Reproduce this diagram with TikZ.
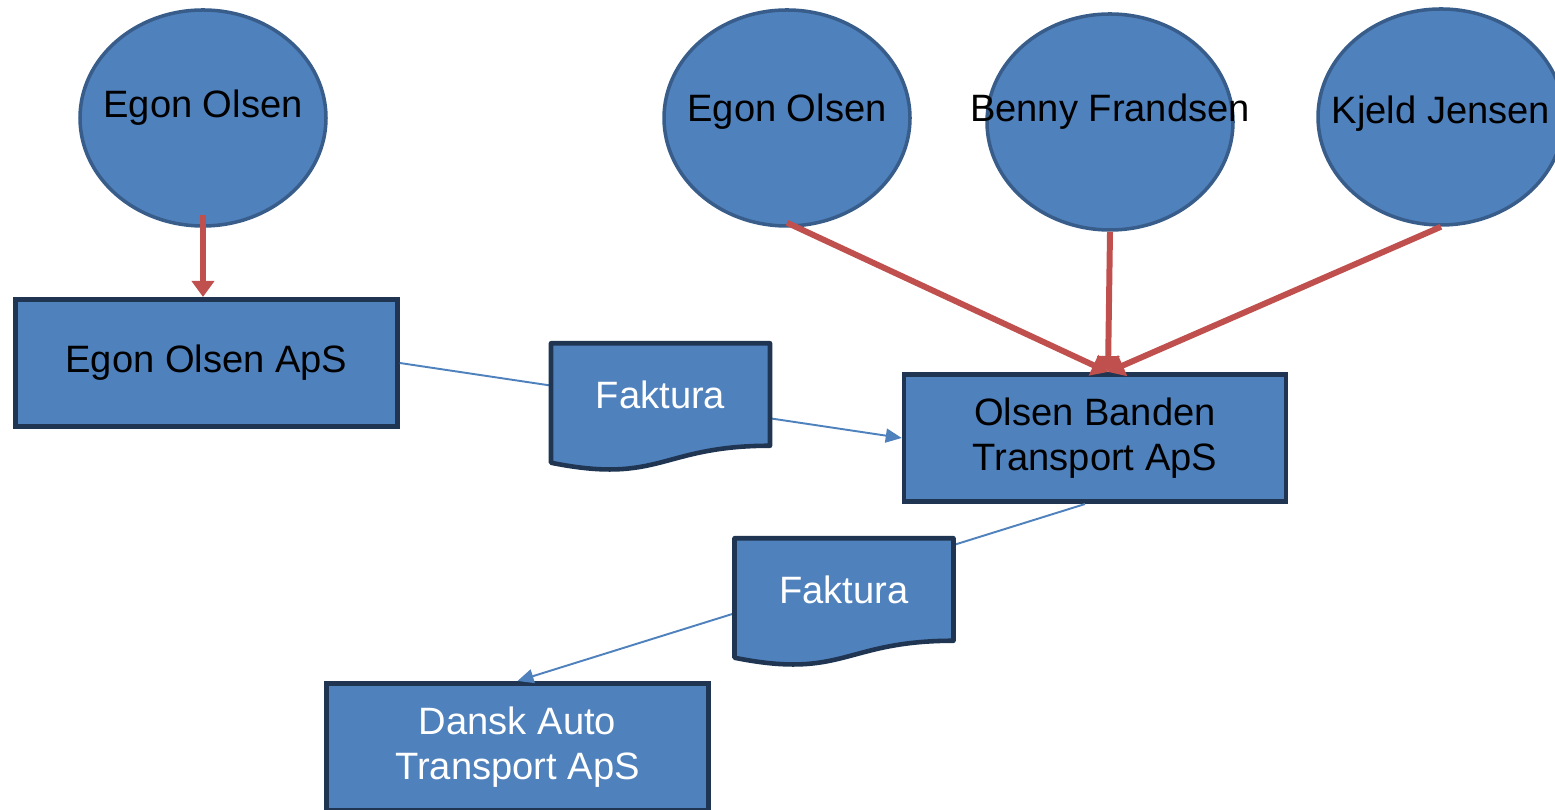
\documentclass[tikz,border=0pt]{standalone}
\usepackage{fontspec}
\setmainfont{Liberation Sans}
\usepackage{tikz}
\usetikzlibrary{arrows.meta,shapes,calc}

\definecolor{boxblue}{HTML}{4F81BD}
\definecolor{rimblue}{HTML}{385D8A}
\definecolor{navy}{HTML}{1F3552}
\definecolor{ownred}{HTML}{C0504D}

\begin{document}
\begin{tikzpicture}[
  person/.style={ellipse, draw=rimblue, fill=boxblue, line width=2pt, minimum width=4.92cm, minimum height=4.32cm},
  persontext/.style={anchor=base, font=\fontsize{21.7}{26}\selectfont},
  company/.style={rectangle, draw=navy, fill=boxblue, line width=2.6pt, minimum width=7.64cm, minimum height=2.55cm, align=center, font=\fontsize{21.7}{26}\selectfont},
  doc/.style={draw=navy, fill=boxblue, line width=2.6pt, line join=round},
  doctext/.style={text=white, font=\fontsize{21.7}{26}\selectfont},
  owns/.style={draw=ownred, line width=3.4pt, -{Triangle[length=0.32cm,width=0.44cm]}},
  flow/.style={draw=boxblue, line width=1.1pt, -{Triangle[length=0.32cm,width=0.28cm]}}
]
\clip (0,0) rectangle (31.1,16.2);

% owners
\node[person] (egon1) at (4.06,13.84) {};
\node[person] (egon2) at (15.74,13.84) {};
\node[person] (benny) at (22.2,13.76) {};
\node[person] (kjeld) at (28.82,13.86) {};
\node[persontext] (egon1txt) at (egon1.center) {Egon Olsen};
\node[persontext] (egon2txt) at ([yshift=-0.08cm]egon2.center) {Egon Olsen};
\node[persontext] (bennytxt) at (benny.center) {Benny Frandsen};
\node[persontext] (kjeldtxt) at ([yshift=-0.14cm]kjeld.center) {Kjeld Jensen};

% companies
\node[company] (egonaps) at (4.13,8.94) {Egon Olsen ApS};
\node[company] (ob) at (21.9,7.44) {Olsen Banden\\Transport ApS};
\node[company, text=white] (dansk) at (10.35,1.26) {Dansk Auto\\Transport ApS};

% invoices
\draw[flow] (egonaps.east) -- (ob.west);
\draw[flow] ([xshift=-0.2cm]ob.south) -- (dansk.north);

\coordinate (f1) at (13.21,8.31);
\draw[doc] ($(f1)+(-2.19,1.025)$) -- ($(f1)+(2.19,1.025)$) -- ($(f1)+(2.19,-1.025)$)
  .. controls ($(f1)+(0,-1.025)$) and ($(f1)+(0,-1.805)$) .. ($(f1)+(-2.19,-1.365)$) -- cycle;
\node[doctext] (fak1) at (f1) {Faktura};

\coordinate (f2) at (16.88,4.41);
\draw[doc] ($(f2)+(-2.19,1.025)$) -- ($(f2)+(2.19,1.025)$) -- ($(f2)+(2.19,-1.025)$)
  .. controls ($(f2)+(0,-1.025)$) and ($(f2)+(0,-1.805)$) .. ($(f2)+(-2.19,-1.365)$) -- cycle;
\node[doctext] (fak2) at (f2) {Faktura};

% ownership
\draw[owns] ([yshift=0.26cm]egon1.south) -- (egon1.south |- egonaps.north);
\draw[owns] ([yshift=0.1cm]egon2.south) -- ([xshift=0.26cm]ob.north);
\draw[owns] (benny.south) -- ([xshift=0.26cm]ob.north);
\draw[owns] (kjeld.south) -- ([xshift=0.26cm]ob.north);
\end{tikzpicture}
\end{document}
